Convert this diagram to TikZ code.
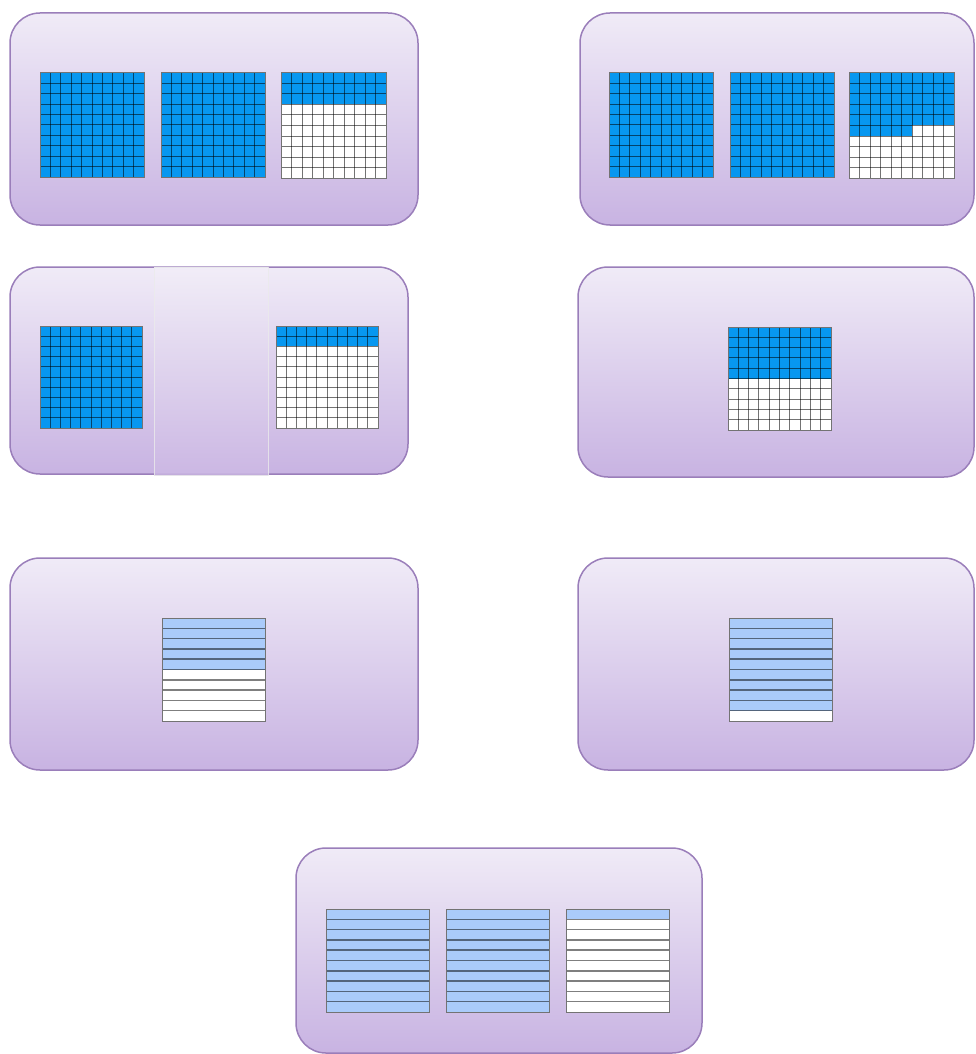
\documentclass[tikz,border=0pt]{standalone}
\usetikzlibrary{calc}
\definecolor{ptop}{HTML}{F0EBF7}
\definecolor{pbot}{HTML}{C8B3E2}
\definecolor{pedge}{HTML}{9A7EBA}
\definecolor{bblue}{HTML}{0797F0}
\definecolor{lblue}{HTML}{AACBFA}
\tikzset{
  panel/.style={draw=pedge, line width=1.5pt, rounded corners=30pt, top color=ptop, bottom color=pbot},
  overlay/.style={draw=black!8, line width=0.8pt, top color=ptop!85!white, bottom color=pbot!92!white, opacity=0.8},
  gline/.style={draw=black, opacity=0.55, line width=1pt},
  sline/.style={draw=black, opacity=0.5, line width=1.5pt},
  frame/.style={draw=black!55, line width=1pt}
}
% square grid: x0, y0, size, full blue rows, extra blue cells
\newcommand\sqgrid[5]{%
  \begin{scope}[shift={(#1,#2)}]
    \fill[white] (0,0) rectangle (#3,#3);
    \ifnum#4>0 \fill[bblue] (0,0) rectangle (#3,{#4*#3/10});\fi
    \ifnum#5>0 \fill[bblue] (0,{#4*#3/10}) rectangle ({#5*#3/10},{(#4+1)*#3/10});\fi
    \foreach \k in {1,...,9} {
      \draw[gline] ({\k*#3/10},0) -- ({\k*#3/10},#3);
      \draw[gline] (0,{\k*#3/10}) -- (#3,{\k*#3/10});
    }
    \draw[frame] (0,0) rectangle (#3,#3);
  \end{scope}}
% striped grid: x0, y0, size, light-blue stripes
\newcommand\stgrid[4]{%
  \begin{scope}[shift={(#1,#2)}]
    \fill[white] (0,0) rectangle (#3,#3);
    \ifnum#4>0 \fill[lblue] (0,0) rectangle (#3,{#4*#3/10});\fi
    \foreach \k in {1,...,9} {
      \draw[sline] (0,{\k*#3/10}) -- (#3,{\k*#3/10});
    }
    \draw[frame] (0,0) rectangle (#3,#3);
  \end{scope}}
\begin{document}
\begin{tikzpicture}[x=1pt,y=-1pt]
\useasboundingbox (0,0) rectangle (975,1054);
% panels
\draw[panel] (10,13) rectangle (418,225);
\draw[panel] (580,13) rectangle (974,225);
\draw[panel] (10,267) rectangle (408,474);
\draw[overlay] (154,267) rectangle (268,475);
\draw[panel] (578,267) rectangle (974,477);
\draw[panel] (10,558) rectangle (418,770);
\draw[panel] (578,558) rectangle (974,770);
\draw[panel] (296,848) rectangle (702,1053);
% panel 1
\sqgrid{40}{73}{104}{10}{0}
\sqgrid{161}{73}{104}{10}{0}
\sqgrid{281}{73}{105}{3}{0}
% panel 2
\sqgrid{609}{73}{104}{10}{0}
\sqgrid{730}{73}{104}{10}{0}
\sqgrid{849}{73}{105}{5}{6}
% panel 3
\sqgrid{40}{326}{102}{10}{0}
\sqgrid{276}{326}{102}{2}{0}
% panel 4
\sqgrid{728}{327}{103}{5}{0}
% panel 5
\stgrid{162}{618}{103}{5}
% panel 6
\stgrid{729}{618}{103}{9}
% panel 7
\stgrid{326}{909}{103}{10}
\stgrid{446}{909}{103}{10}
\stgrid{566}{909}{103}{1}
\end{tikzpicture}
\end{document}
